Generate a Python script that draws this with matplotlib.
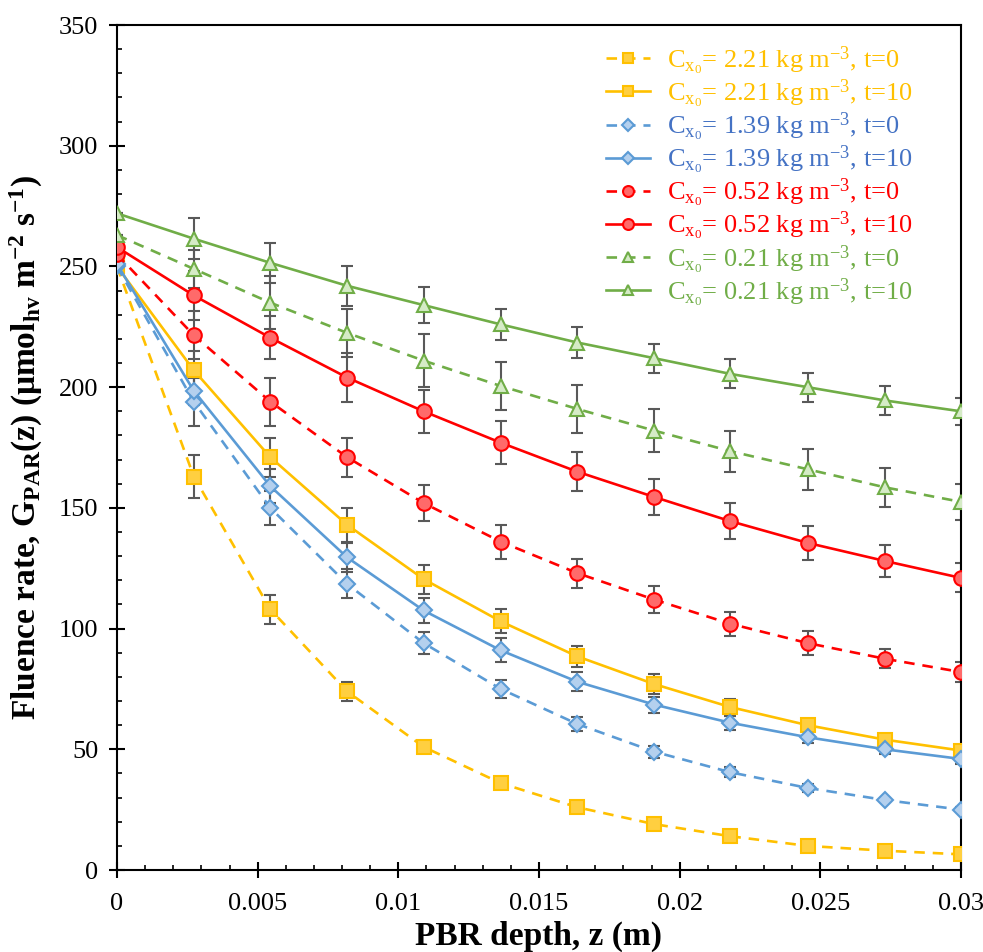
import numpy as np
import matplotlib
matplotlib.use('Agg')
import matplotlib.pyplot as plt
from matplotlib.ticker import MultipleLocator

plt.rcParams['font.family'] = ['Liberation Serif', 'DejaVu Serif']
plt.rcParams['mathtext.default'] = 'regular'

# depth positions (m)
z = [0, 0.00273, 0.00545, 0.00818, 0.0109, 0.01364, 0.01636, 0.0191, 0.0218, 0.02455, 0.0273, 0.03]

# fluence rate values
y_221_t0 = [250, 163, 108, 74, 51, 36, 26, 19, 14, 10, 8, 6.5]
y_221_t10 = [250, 207, 171, 143, 120.5, 103, 88.5, 77, 67.5, 60, 54, 49.5]
y_139_t0 = [250, 194, 150, 118.5, 94, 75, 60.5, 49, 40.5, 34, 29, 25]
y_139_t10 = [251, 198.5, 159, 129.5, 107.5, 91, 78, 68.5, 61, 55, 50, 46]
y_052_t0 = [255, 221.5, 194, 171, 152, 136, 123, 112, 102, 94, 87.5, 82]
y_052_t10 = [258, 238, 220.5, 204, 190, 177, 165, 154.5, 144.5, 135.5, 128, 121]
y_021_t0 = [263, 249, 235, 222.5, 211, 200.5, 191, 182, 173.5, 166, 158.5, 152.5]
y_021_t10 = [272, 261.5, 251.5, 242, 234, 226, 218.5, 212, 205.5, 200, 194.5, 190]

# error bar half-widths
e_221_t0 = [0, 9, 6, 4, 2, 1.5, 1, 1, 1, 0.5, 0.5, 0.5]
e_221_t10 = [0, 8, 8, 7, 6, 5, 4.5, 4, 3.5, 2.5, 2, 1.5]
e_139_t0 = [0, 10, 7, 6, 4.5, 3.8, 3, 2.5, 2, 1.5, 1, 1]
e_139_t10 = [0, 6, 7, 6, 5, 5, 4, 3.3, 3, 2.5, 2, 2]
e_052_t0 = [0, 10, 10, 8, 7.5, 7, 6, 5.5, 5, 5, 4, 4]
e_052_t10 = [0, 10, 9, 10, 9, 9, 8, 7.5, 7.5, 7, 6.5, 6]
e_021_t0 = [0, 8, 11, 10, 11, 10, 10, 9, 8.5, 8.5, 8, 7.5]
e_021_t10 = [0, 8.5, 8.3, 8.3, 7.5, 6.5, 6.5, 6, 6, 6, 6, 5.5]

labels = [
    'C$_{x_0}$= 2.21 kg m$^{-3}$, t=0',
    'C$_{x_0}$= 2.21 kg m$^{-3}$, t=10',
    'C$_{x_0}$= 1.39 kg m$^{-3}$, t=0',
    'C$_{x_0}$= 1.39 kg m$^{-3}$, t=10',
    'C$_{x_0}$= 0.52 kg m$^{-3}$, t=0',
    'C$_{x_0}$= 0.52 kg m$^{-3}$, t=10',
    'C$_{x_0}$= 0.21 kg m$^{-3}$, t=0',
    'C$_{x_0}$= 0.21 kg m$^{-3}$, t=10',
]

series = [
    (y_221_t0, e_221_t0, '#FFC000', '#FFCF40', '#FFC000', 's', 10.5, True),
    (y_221_t10, e_221_t10, '#FFC000', '#FFCF40', '#FFC000', 's', 10.5, False),
    (y_139_t0, e_139_t0, '#5B9BD5', '#B4D0EE', '#4472C4', 'D', 8, True),
    (y_139_t10, e_139_t10, '#5B9BD5', '#B4D0EE', '#4472C4', 'D', 8, False),
    (y_052_t0, e_052_t0, '#FF0000', '#FF6A6A', '#FF0000', 'o', 10.5, True),
    (y_052_t10, e_052_t10, '#FF0000', '#FF6A6A', '#FF0000', 'o', 10.5, False),
    (y_021_t0, e_021_t0, '#70AD47', '#D5EBC6', '#70AD47', '^', 10, True),
    (y_021_t10, e_021_t10, '#70AD47', '#D5EBC6', '#70AD47', '^', 10, False),
]

fig = plt.figure(figsize=(9.83, 9.52), dpi=100)
ax = fig.add_axes([0.119, 0.0861, 0.8586, 0.8876])

text_colors = []
for (yv, ev, col, face, tcol, mk, ms, dashed), lab in zip(series, labels):
    ax.errorbar(z, yv, yerr=ev, fmt='none', ecolor='#595959', elinewidth=1.5,
                capsize=4, capthick=1.5, zorder=2)
    ls = (0, (4, 3)) if dashed else '-'
    ax.plot(z, yv, color=col, lw=1.9, ls=ls, marker=mk, ms=ms,
            markerfacecolor=face, markeredgecolor=col, markeredgewidth=1.5,
            label=lab, zorder=3)
    text_colors.append(tcol)

ax.set_xlim(0, 0.03)
ax.set_ylim(0, 350)
ax.xaxis.set_major_locator(MultipleLocator(0.005))
ax.xaxis.set_minor_locator(MultipleLocator(0.001))
ax.yaxis.set_major_locator(MultipleLocator(50))
ax.yaxis.set_minor_locator(MultipleLocator(10))
ax.set_xticks([0, 0.005, 0.01, 0.015, 0.02, 0.025, 0.03])
ax.set_xticklabels(['0', '0.005', '0.01', '0.015', '0.02', '0.025', '0.03'])

ax.tick_params(which='major', direction='inout', length=11, width=1.5, labelsize=19, pad=8)
ax.tick_params(which='minor', direction='in', length=3.5, width=1.2)
ax.tick_params(axis='x', which='major', pad=11)
for s in ax.spines.values():
    s.set_linewidth(1.5)

ax.set_xlabel('PBR depth, z (m)', fontsize=24, fontweight='bold', labelpad=4)
ax.set_ylabel('Fluence rate, G$_{PAR}$(z) (μmol$_{hv}$ m$^{-2}$ s$^{-1}$)',
              fontsize=24, fontweight='bold', labelpad=10)

leg = ax.legend(loc='upper right', bbox_to_anchor=(0.955, 0.99), frameon=False,
                fontsize=19, handlelength=1.65, handletextpad=0.65,
                labelspacing=0.02, markerscale=0.75, borderaxespad=0.0)
for t, c in zip(leg.get_texts(), text_colors):
    t.set_color(c)

fig.savefig('out.png', dpi=100)
